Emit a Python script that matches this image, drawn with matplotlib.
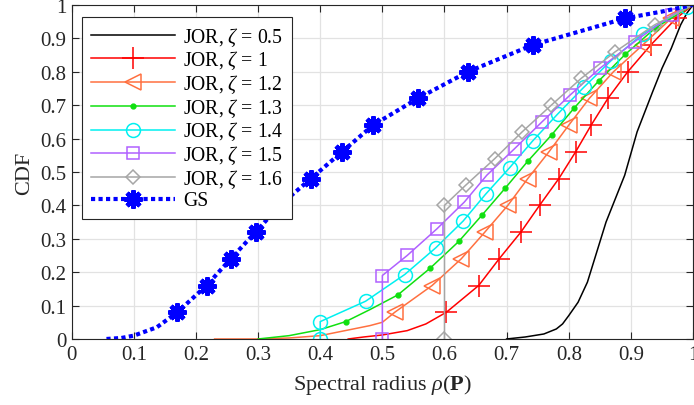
import matplotlib
matplotlib.use("Agg")
import matplotlib.pyplot as plt
import matplotlib.ticker as ticker

plt.rcParams["font.family"] = ["Liberation Serif", "DejaVu Serif"]
plt.rcParams["mathtext.fontset"] = "custom"
plt.rcParams["mathtext.rm"] = "Liberation Serif"
plt.rcParams["mathtext.it"] = "Liberation Serif:italic"
plt.rcParams["mathtext.bf"] = "Liberation Serif:bold"

# CDF curves (x = spectral radius, y = CDF)
bk_x = [0.70, 0.73, 0.76, 0.78, 0.79, 0.80, 0.815, 0.83, 0.845, 0.86, 0.875, 0.89, 0.91, 0.935, 0.95, 0.965, 0.98, 0.99, 1.0]
bk_y = [0, 0.006, 0.015, 0.03, 0.045, 0.07, 0.11, 0.17, 0.26, 0.35, 0.42, 0.49, 0.62, 0.74, 0.81, 0.87, 0.94, 0.975, 1.0]

red_x = [0.445, 0.47, 0.50, 0.54, 0.57, 0.603, 0.655, 0.688, 0.723, 0.753, 0.784, 0.811, 0.836, 0.863, 0.895, 0.932, 0.973, 1.0]
red_y = [0, 0.006, 0.012, 0.025, 0.045, 0.08, 0.16, 0.24, 0.32, 0.40, 0.48, 0.56, 0.64, 0.72, 0.80, 0.88, 0.96, 1.0]
red_mk = list(range(5, 17))

or_x = [0.23, 0.30, 0.35, 0.40, 0.44, 0.48, 0.50, 0.52, 0.58, 0.627, 0.665, 0.702, 0.734, 0.768, 0.80, 0.833, 0.872, 0.919, 0.965, 1.0]
or_y = [0, 0.0, 0.003, 0.01, 0.025, 0.04, 0.05, 0.08, 0.16, 0.24, 0.32, 0.40, 0.48, 0.56, 0.64, 0.72, 0.80, 0.88, 0.96, 1.0]
or_mk = list(range(7, 19))

gr_x = [0.30, 0.35, 0.40, 0.441, 0.48, 0.525, 0.577, 0.623, 0.661, 0.698, 0.734, 0.773, 0.809, 0.848, 0.891, 0.94, 1.0]
gr_y = [0, 0.01, 0.028, 0.052, 0.088, 0.132, 0.212, 0.292, 0.372, 0.452, 0.532, 0.612, 0.692, 0.772, 0.852, 0.932, 1.0]
gr_mk = [3] + list(range(5, 16))

cy_x = [0.40, 0.40, 0.473, 0.536, 0.586, 0.63, 0.666, 0.705, 0.742, 0.782, 0.824, 0.868, 0.919, 0.99, 1.0]
cy_y = [0, 0.052, 0.113, 0.193, 0.273, 0.353, 0.433, 0.513, 0.593, 0.673, 0.753, 0.833, 0.913, 0.993, 1.0]
cy_mk = list(range(0, 14))

pu_x = [0.50, 0.50, 0.54, 0.588, 0.632, 0.668, 0.713, 0.757, 0.802, 0.850, 0.906, 0.966, 1.0]
pu_y = [0, 0.19, 0.25, 0.33, 0.41, 0.49, 0.57, 0.65, 0.73, 0.81, 0.89, 0.97, 1.0]
pu_mk = list(range(0, 12))

gy_x = [0.60, 0.60, 0.634, 0.681, 0.725, 0.772, 0.82, 0.875, 0.938, 1.0]
gy_y = [0, 0.40, 0.46, 0.54, 0.62, 0.70, 0.78, 0.86, 0.94, 1.0]
gy_mk = list(range(0, 9))

gs_x = [0.056, 0.08, 0.10, 0.137, 0.17, 0.217, 0.256, 0.296, 0.335, 0.385, 0.435, 0.485, 0.557, 0.638, 0.742, 0.891, 0.95, 1.0]
gs_y = [0, 0.003, 0.01, 0.035, 0.08, 0.16, 0.24, 0.32, 0.40, 0.48, 0.56, 0.64, 0.72, 0.80, 0.88, 0.96, 0.98, 1.0]
gs_mk = list(range(4, 16))

labels = [r"JOR, $\zeta$ = 0.5", r"JOR, $\zeta$ = 1", r"JOR, $\zeta$ = 1.2", r"JOR, $\zeta$ = 1.3",
          r"JOR, $\zeta$ = 1.4", r"JOR, $\zeta$ = 1.5", r"JOR, $\zeta$ = 1.6", "GS"]

fig = plt.figure(figsize=(6.94, 4.06), dpi=100)
ax = fig.add_axes([0.1033, 0.1626, 0.8953, 0.8229])

ax.plot(bk_x, bk_y, color="black", lw=1.1, label=labels[0])
ax.plot(red_x, red_y, color="#ff0000", lw=1.1, marker="+", ms=16, mew=1.1, markevery=red_mk, label=labels[1])
ax.plot(or_x, or_y, color="#ff7040", lw=1.1, marker="<", ms=11, mfc="none", mew=1.1, markevery=or_mk, label=labels[2])
ax.plot(gr_x, gr_y, color="#10e010", lw=1.1, marker=".", ms=7, markevery=gr_mk, label=labels[3])
ax.plot(cy_x, cy_y, color="#00f0f0", lw=1.1, marker="o", ms=10, mfc="none", mew=1.1, markevery=cy_mk, label=labels[4])
ax.plot(pu_x, pu_y, color="#b060ff", lw=1.1, marker="s", ms=8, mfc="none", mew=1.1, markevery=pu_mk, label=labels[5])
ax.plot(gy_x, gy_y, color="#a6a6a6", lw=1.1, marker="D", ms=7.5, mfc="none", mew=1.1, markevery=gy_mk, label=labels[6])
ax.plot(gs_x, gs_y, color="#0000ff", lw=3, ls=(0, (1, 0.8)), marker=(8, 2, 0), ms=13, mew=3.2,
        markevery=gs_mk, label=labels[7])

ax.set_xlim(0, 1)
ax.set_ylim(0, 1)
ax.xaxis.set_major_locator(ticker.MultipleLocator(0.1))
ax.yaxis.set_major_locator(ticker.MultipleLocator(0.1))
ax.xaxis.set_major_formatter(ticker.FormatStrFormatter("%g"))
ax.yaxis.set_major_formatter(ticker.FormatStrFormatter("%g"))
ax.grid(True, color="#e2e2e2", lw=0.9)
ax.set_axisbelow(True)
ax.tick_params(direction="in", length=5, width=0.8, colors="#262626", labelsize=15,
               top=True, right=True, pad=4)
for s in ax.spines.values():
    s.set_color("#262626")
    s.set_linewidth(0.8)

ax.set_xlabel(r"Spectral radius $\rho$($\mathbf{P}$)", fontsize=16, color="#262626", labelpad=6)
ax.set_ylabel("CDF", fontsize=16, color="#262626")

leg = ax.legend(loc="upper left", bbox_to_anchor=(0.017, 0.963), borderaxespad=0, fontsize=14.2,
                handlelength=4.3, labelspacing=0.08, borderpad=0.42, handletextpad=0.4,
                fancybox=False, framealpha=1, edgecolor="#262626")
leg.get_frame().set_linewidth(0.8)

fig.savefig("out.png", dpi=100)
